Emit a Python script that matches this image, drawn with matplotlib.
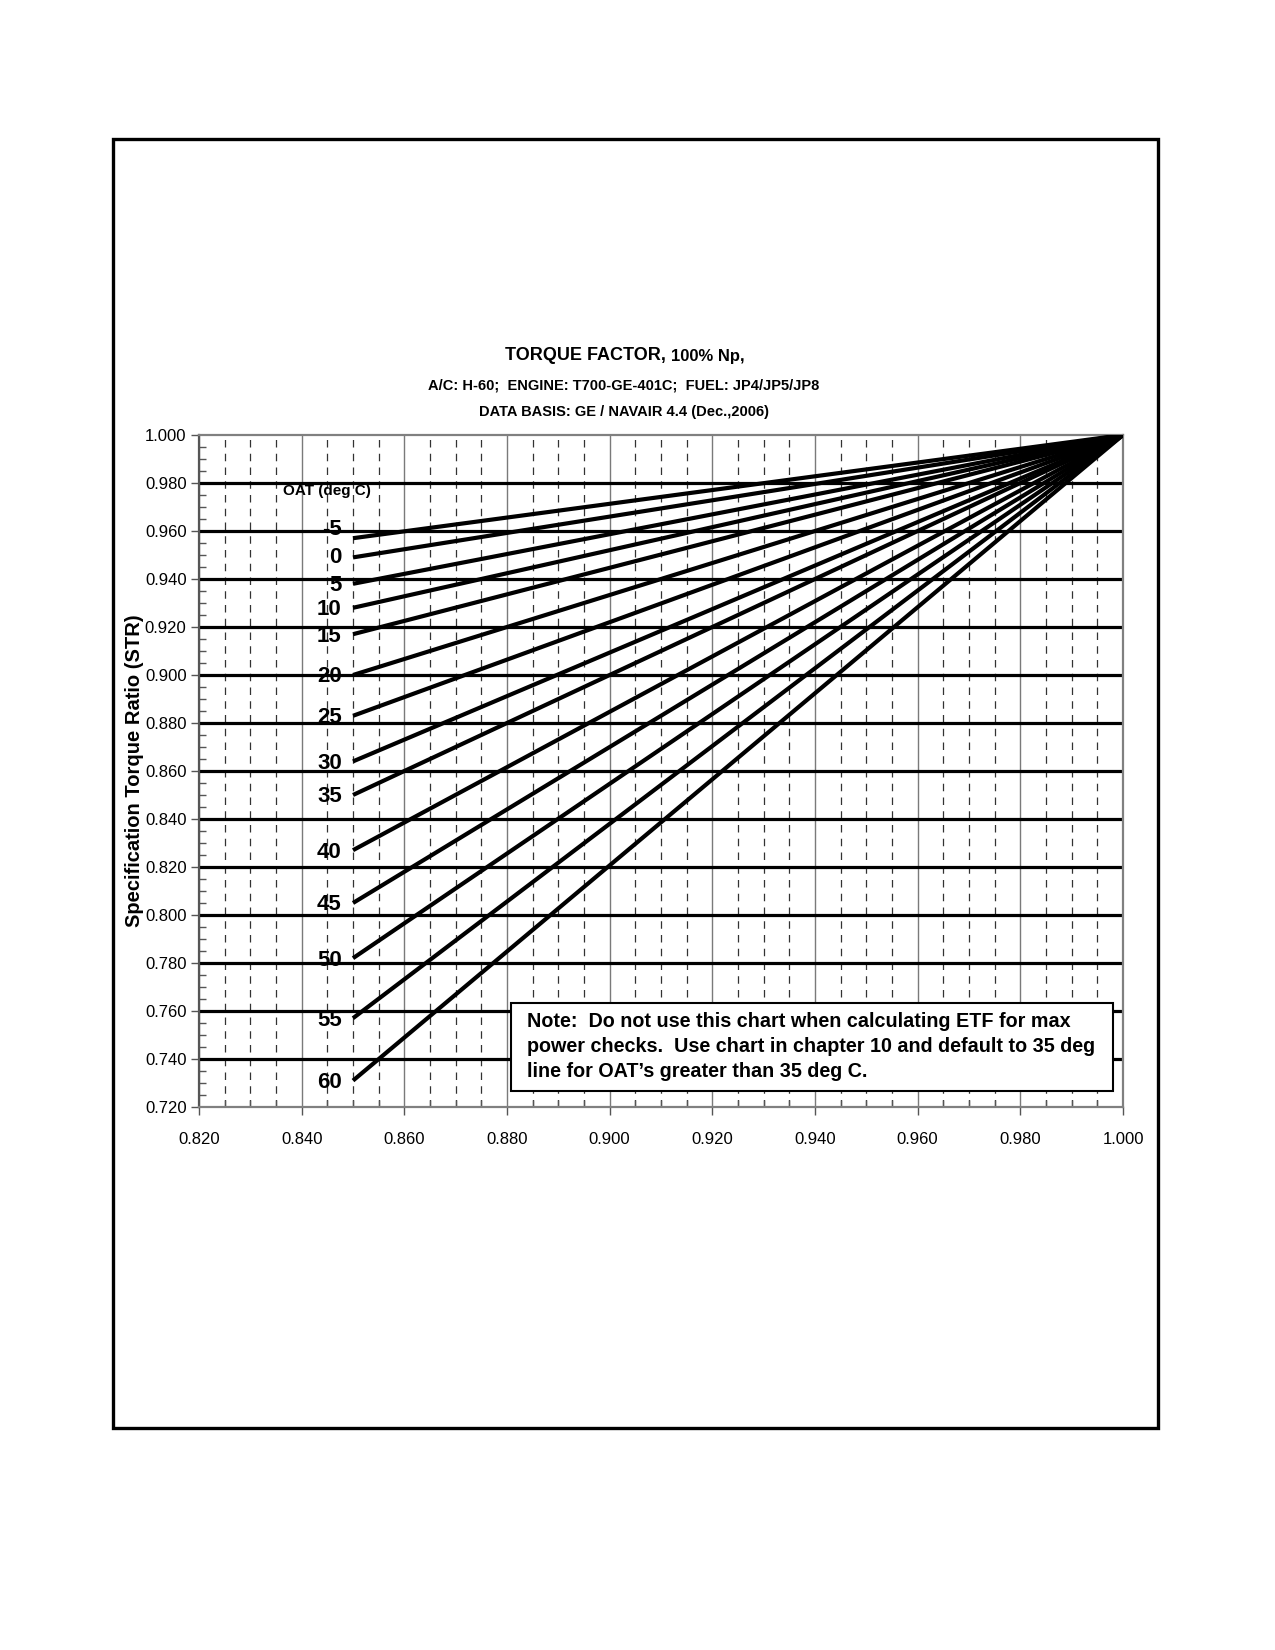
import numpy as np
import matplotlib.pyplot as plt
from matplotlib.patches import Rectangle
from matplotlib.ticker import MultipleLocator, FormatStrFormatter

# OAT curves: specification torque ratio vs torque factor
oat_labels = ['-5', '0', '5', '10', '15', '20', '25', '30', '35', '40', '45', '50', '55', '60']
str_at_start = [0.957, 0.949, 0.938, 0.928, 0.917, 0.900, 0.883, 0.864, 0.850,
                0.827, 0.805, 0.782, 0.757, 0.731]
str_at_end = [1.000] * 14
tf_start = [0.850] * 14
tf_end = [1.000] * 14

x_ticks = [0.820, 0.840, 0.860, 0.880, 0.900, 0.920, 0.940, 0.960, 0.980, 1.000]
y_ticks = [0.720, 0.740, 0.760, 0.780, 0.800, 0.820, 0.840, 0.860, 0.880, 0.900,
           0.920, 0.940, 0.960, 0.980, 1.000]

NARROW = ['Liberation Sans Narrow', 'Liberation Sans', 'DejaVu Sans']
plt.rcParams['font.family'] = ['Liberation Sans', 'DejaVu Sans']

W, H = 1275, 1650
fig = plt.figure(figsize=(W / 100, H / 100), dpi=100)
ax = fig.add_axes([199 / W, 1 - 1107 / H, (1123 - 199) / W, (1107 - 435) / H])

ax.set_xlim(x_ticks[0], x_ticks[-1])
ax.set_ylim(y_ticks[0], y_ticks[-1])

# vertical grid: solid grey majors, dashed minors
ax.xaxis.set_major_locator(MultipleLocator(0.02))
ax.xaxis.set_minor_locator(MultipleLocator(0.005))
ax.yaxis.set_major_locator(MultipleLocator(0.02))
ax.yaxis.set_minor_locator(MultipleLocator(0.005))
ax.xaxis.set_major_formatter(FormatStrFormatter('%.3f'))
ax.yaxis.set_major_formatter(FormatStrFormatter('%.3f'))
ax.grid(True, axis='x', which='major', color='#7a7a7a', lw=1.0, zorder=1)
ax.grid(True, axis='x', which='minor', color='#333333', lw=0.9,
        linestyle=(0, (6, 5)), zorder=1)

# heavy horizontal lines
ax.hlines(y_ticks[1:-1], x_ticks[0], x_ticks[-1], colors='black', lw=2.3, zorder=2)

for s in ax.spines.values():
    s.set_color('#808080')
    s.set_linewidth(1.6)
ax.spines['left'].set_color('#555555')

ax.tick_params(which='major', direction='out', length=6, width=1, color='#555555', pad=3)
ax.tick_params(axis='x', which='major', pad=12)
ax.tick_params(which='minor', direction='in', length=5, width=1, color='#555555')
for lab in ax.get_xticklabels() + ax.get_yticklabels():
    lab.set_family(NARROW)
    lab.set_fontsize(12)

for i in range(len(oat_labels)):
    ax.plot([tf_start[i], tf_end[i]], [str_at_start[i], str_at_end[i]],
            color='black', lw=3.0, solid_capstyle='butt', zorder=4)
    nudge = 0.0035 if i == 0 else (0.0 if i == 1 else -0.0008)
    ax.text(0.8478, str_at_start[i] + nudge, oat_labels[i], ha='right', va='center',
            fontsize=16, fontweight='bold', family=NARROW, zorder=5)

ax.text(0.8449, 0.9767, 'OAT (deg C)', ha='center', va='center', fontsize=11,
        fontweight='bold', family=NARROW, zorder=5)

# note box
ax.add_patch(Rectangle((0.8807, 0.7267), 0.9981 - 0.8807, 0.7633 - 0.7267,
                       facecolor='white', edgecolor='black', lw=1.5, zorder=6))
ax.text(0.8838, 0.7452,
        "Note:  Do not use this chart when calculating ETF for max\n"
        "power checks.  Use chart in chapter 10 and default to 35 deg\n"
        "line for OAT\u2019s greater than 35 deg C.",
        ha='left', va='center', fontsize=14.2, fontweight='bold', linespacing=1.4,
        zorder=7)

# titles
fig.text(666 / W, 1 - 356 / H, 'TORQUE FACTOR,', ha='right', va='center',
         fontsize=13, fontweight='bold', family=NARROW)
fig.text(671 / W, 1 - 357 / H, '100% Np,', ha='left', va='center',
         fontsize=12, fontweight='bold', family=NARROW)
fig.text(624 / W, 1 - 385 / H, 'A/C: H-60;  ENGINE: T700-GE-401C;  FUEL: JP4/JP5/JP8',
         ha='center', va='center', fontsize=10.5, fontweight='bold', family=NARROW)
fig.text(624 / W, 1 - 412 / H, 'DATA BASIS: GE / NAVAIR 4.4 (Dec.,2006)',
         ha='center', va='center', fontsize=10.5, fontweight='bold', family=NARROW)

fig.text(135 / W, 1 - 771 / H, 'Specification Torque Ratio (STR)', rotation=90,
         ha='center', va='center', fontsize=14.5, fontweight='bold')

# outer page frame
fig.add_artist(Rectangle((113 / W, 1 - 1428 / H), (1158 - 113) / W, (1428 - 139) / H,
                         transform=fig.transFigure, fill=False, lw=2.4,
                         edgecolor='black'))

fig.savefig('out.png', dpi=100, facecolor='white')
